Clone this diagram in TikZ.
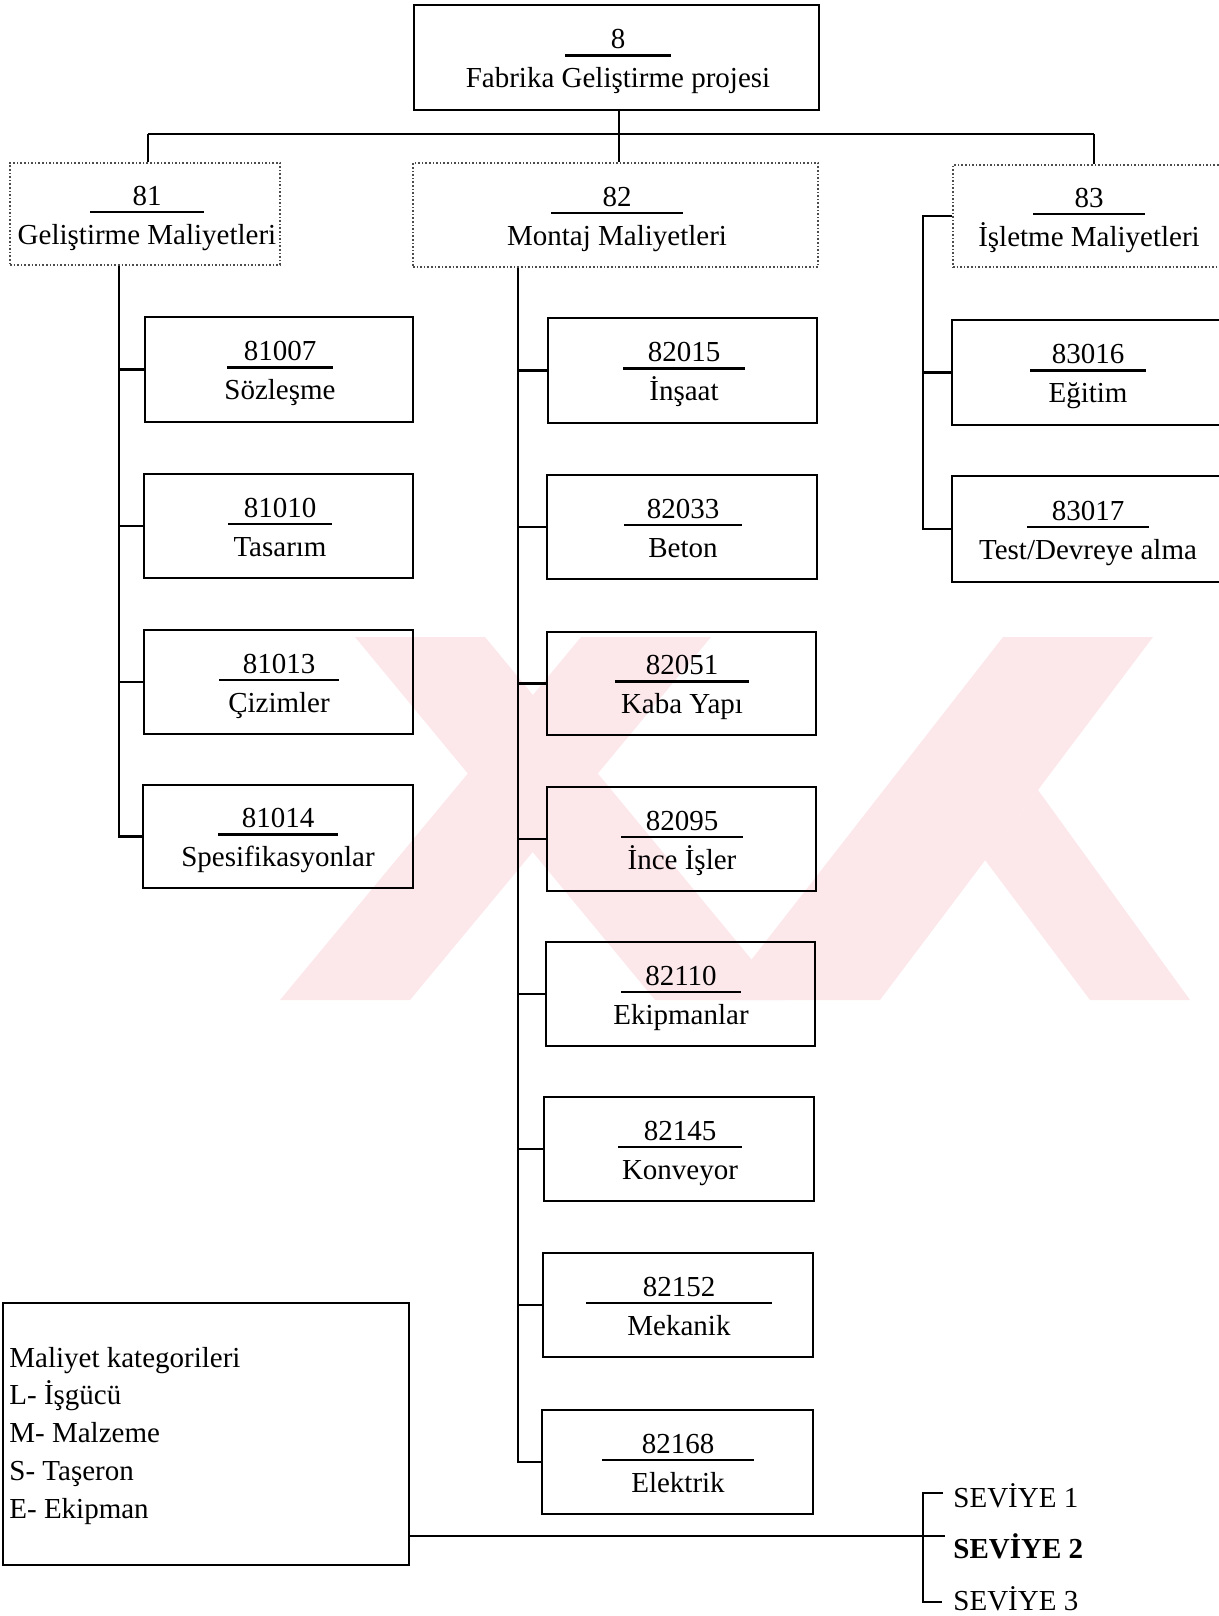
\documentclass[tikz,border=0pt]{standalone}
\usepackage{fontspec}
\setmainfont{Liberation Serif}
\usetikzlibrary{fit,calc}
\definecolor{wm}{RGB}{252,231,235}
\tikzset{
  lvl0/.style={draw, line width=1.3pt, inner sep=0pt},
  lvl1/.style={draw=black!70, densely dotted, line width=0.8pt, inner sep=0pt},
  lvl2/.style={draw, line width=1.3pt, inner sep=0pt},
  curbox/.style={lvl2},
  conn/.style={line width=1.3pt},
  ul/.style={line width=1.1pt},
  lbl/.style={anchor=base, inner sep=0pt, font=\fontsize{14.5}{17}\selectfont},
  lgd/.style={anchor=base west, inner sep=0pt, font=\fontsize{14.5}{17}\selectfont},
  wmark/.style={fill=wm, draw=none},
}
% name, x1, y1, x2, y2, text centre, underline half width, number, label
\newcommand\wbs[9]{%
  \node[curbox, fit={(#2,#3)(#4,#5)}] (#1) {};
  \node[lbl] (#1-n) at ({#6},{(#3+#5)/2-9}) {#8};
  \draw[ul] ({#6-#7},{(#3+#5)/2-2}) -- ({#6+#7},{(#3+#5)/2-2});
  \node[lbl] (#1-l) at ({#6},{(#3+#5)/2+30}) {#9};
}
\begin{document}
\begin{tikzpicture}[x=0.5pt,y=-0.5pt]
\useasboundingbox (0,0) rectangle (1219,1616);
\clip (0,0) rectangle (1219,1616);
% watermark
\fill[wmark] (355,637) -- (485,637) -- (785,1000) -- (655,1000) -- cycle;
\fill[wmark] (280,1000) -- (410,1000) -- (711,637) -- (581,637) -- cycle;
\fill[wmark] (1003,637) -- (1153,637) -- (880,1000) -- (720,1000) -- cycle;
\fill[wmark] (1038,790) -- (1190,1000) -- (1090,1000) -- (985,860) -- cycle;

% level 0
\tikzset{curbox/.style={lvl0}}
\wbs{top}{414}{5}{819}{110}{618}{53}{8}{Fabrika Geliştirme projesi}
% level 1
\tikzset{curbox/.style={lvl1}}
\wbs{n81}{10}{163}{280}{265}{147}{57}{81}{Geliştirme Maliyetleri}
\wbs{n82}{413}{163}{818}{267}{617}{66}{82}{Montaj Maliyetleri}
\wbs{n83}{953}{165}{1240}{267}{1089}{56}{83}{İşletme Maliyetleri}
% level 2
\tikzset{curbox/.style={lvl2}}
\wbs{b81007}{145}{317}{413}{422}{280}{53}{81007}{Sözleşme}
\wbs{b81010}{144}{474}{413}{578}{280}{52}{81010}{Tasarım}
\wbs{b81013}{144}{630}{413}{734}{279}{60}{81013}{Çizimler}
\wbs{b81014}{143}{785}{413}{888}{278}{60}{81014}{Spesifikasyonlar}

\wbs{b82015}{548}{318}{817}{423}{684}{61}{82015}{İnşaat}
\wbs{b82033}{547}{475}{817}{579}{683}{59}{82033}{Beton}
\wbs{b82051}{547}{632}{816}{735}{682}{67}{82051}{Kaba Yapı}
\wbs{b82095}{547}{787}{816}{891}{682}{61}{82095}{İnce İşler}
\wbs{b82110}{546}{942}{815}{1046}{681}{60}{82110}{Ekipmanlar}
\wbs{b82145}{544}{1097}{814}{1201}{680}{62}{82145}{Konveyor}
\wbs{b82152}{543}{1253}{813}{1357}{679}{93}{82152}{Mekanik}
\wbs{b82168}{542}{1410}{813}{1514}{678}{76}{82168}{Elektrik}

\wbs{b83016}{952}{320}{1240}{425}{1088}{58}{83016}{Eğitim}
\wbs{b83017}{952}{476}{1240}{582}{1088}{61}{83017}{Test/Devreye alma}

% connectors
\coordinate (busL) at (148,134);
\coordinate (busR) at (1094,134);
\coordinate (dropA) at (619,134);
\coordinate (x81) at (119,0);
\coordinate (x82) at (518,0);
\coordinate (x83) at (923,0);
\draw[conn] (busL) -- (busR);
\draw[conn] (top.south -| dropA) -- (n82.north -| dropA);
\draw[conn] (busL) -- (n81.north -| busL);
\draw[conn] (busR) -- (n83.north -| busR);

\draw[conn] (n81.south -| x81) |- (b81014.west);
\foreach \b in {b81007,b81010,b81013}
  \draw[conn] (\b.west) -- (\b.west -| x81);

\draw[conn] (n82.south -| x82) |- (b82168.west);
\foreach \b in {b82015,b82033,b82051,b82095,b82110,b82145,b82152}
  \draw[conn] (\b.west) -- (\b.west -| x82);

\draw[conn] (n83.west) -| (b83017.west -| x83) -- (b83017.west);
\draw[conn] (b83016.west) -- (b83016.west -| x83);

% legend
\node[lvl2, fit={(3,1303)(409,1565)}] (legend) {};
\node[lgd] (lg1) at (9,1367) {Maliyet kategorileri};
\node[lgd] (lg2) at (9,1404) {L- İşgücü};
\node[lgd] (lg3) at (9,1442) {M- Malzeme};
\node[lgd] (lg4) at (9,1480) {S- Taşeron};
\node[lgd] (lg5) at (9,1518) {E- Ekipman};

% levels key
\coordinate (lgE) at (409,1536);
\coordinate (bkT) at (923,1493);
\coordinate (bkB) at (923,1602);
\coordinate (bkM) at (945,1536);
\node[lgd] (s1) at (953,1507) {SEVİYE 1};
\node[lgd] (s2) at (953,1558) {\bfseries SEVİYE 2};
\node[lgd] (s3) at (953,1610) {SEVİYE 3};
\draw[conn] (lgE) -- (bkM);
\draw[conn] ([xshift=-5pt]s1.west |- bkT) -- (bkT) -- (bkB) -- ([xshift=-5.5pt]s3.west |- bkB);
\end{tikzpicture}
\end{document}
